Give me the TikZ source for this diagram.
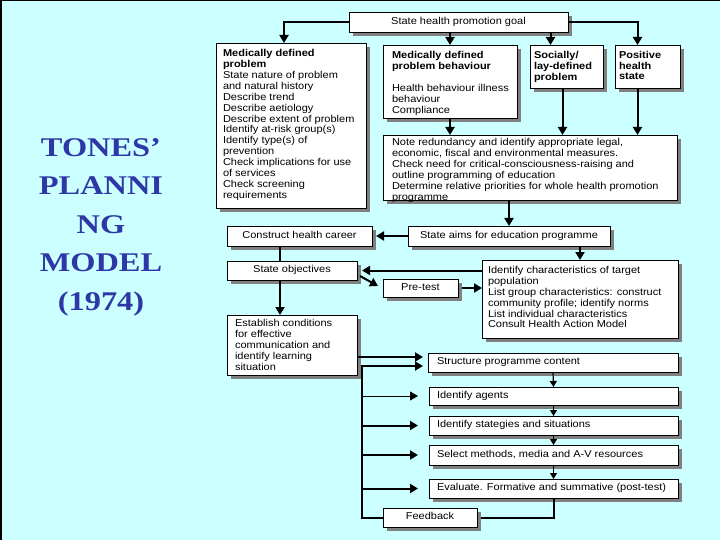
\documentclass[tikz,border=0pt]{standalone}
\usepackage{fontspec}
\usetikzlibrary{arrows.meta,shadows,calc}
\newfontfamily\bxf[FakeStretch=1.1]{Liberation Sans}
\newfontfamily\ttlf[FakeStretch=1.2]{Liberation Serif}
\definecolor{bgcyan}{RGB}{204,255,255}
\definecolor{shgray}{RGB}{128,128,128}
\definecolor{ttlblue}{RGB}{45,55,165}
% top-aligned text: width, height, left pad, top space, text
\newcommand\tbt[5]{\parbox[c][#2][t]{#1}{\raggedright\leftskip=#3\relax\vspace*{#4}\strut#5}}
% single line, left
\newcommand\tbl[4]{\parbox[c][#2][c]{#1}{\raggedright\leftskip=#3\relax\strut#4}}
% single line, centred
\newcommand\tbm[3]{\parbox[c][#2][c]{#1}{\centering\strut#3}}
\tikzset{
  bx/.style={draw=black, line width=0.7pt, fill=white, inner sep=0pt, outer sep=0pt,
    anchor=north west, font=\bxf\fontsize{10}{10.9}\selectfont,
    drop shadow={shadow xshift=4pt, shadow yshift=-4pt, fill=shgray, opacity=1}},
  line/.style={line width=2pt},
  arr/.style={line width=2pt, -{Triangle[length=8pt,width=9pt]}},
  tarr/.style={line width=1pt, -{Triangle[length=8pt,width=9pt]}},
  sarr/.style={line width=1.2pt, -{Triangle[length=6pt,width=7pt]}},
}
\begin{document}
\begin{tikzpicture}[x=1pt,y=-1pt]
\useasboundingbox (0,0) rectangle (720,540);
\fill[bgcyan] (0,0) rectangle (720,540);
\draw[line width=1.5pt] (0.75,540) -- (0.75,0.75) -- (720,0.75);

\node[font=\ttlf\bfseries\fontsize{27}{38.5}\selectfont, text=ttlblue, align=center] (title) at (101,227)
  {TONES’\\PLANNI\\NG\\MODEL\\(1974)};

\node[bx] (goal) at (349,12) {\tbm{219pt}{20pt}{State health promotion goal}};
\node[bx] (mdp) at (216,43) {\tbt{150pt}{165pt}{7pt}{6pt}{\textbf{Medically defined}\\\textbf{problem}\\State nature of problem\\and natural history\\Describe trend\\Describe aetiology\\Describe extent of problem\\Identify at-risk group(s)\\Identify type(s) of\\prevention\\Check implications for use\\of services\\Check screening\\requirements}};
\node[bx] (mdb) at (383,45) {\tbt{134pt}{73pt}{9pt}{6pt}{\textbf{Medically defined}\\\textbf{problem behaviour}\\[11.2pt]Health behaviour illness\\behaviour\\Compliance}};
\node[bx] (soc) at (530,45) {\tbt{73pt}{43pt}{4pt}{6pt}{\textbf{Socially/}\\\textbf{lay-defined}\\\textbf{problem}}};
\node[bx] (pos) at (615,45) {\tbt{65pt}{43pt}{4pt}{5.5pt}{\textbf{Positive}\\\textbf{health}\\\textbf{state}}};
\node[bx] (note) at (383,135) {\tbt{294pt}{65pt}{9pt}{3pt}{Note redundancy and identify appropriate legal,\\economic, fiscal and environmental measures.\\Check need for critical-consciousness-raising and\\outline programming of education\\Determine relative priorities for whole health promotion\\programme}};
\node[bx] (career) at (227,226) {\tbm{145pt}{20pt}{Construct health career}};
\node[bx] (aims) at (408,226) {\tbm{202pt}{20pt}{State aims for education programme}};
\node[bx] (obj) at (227,261) {\tbm{130pt}{19pt}{State objectives}};
\node[bx] (ichar) at (482,260) {\tbt{196pt}{78pt}{6pt}{5.8pt}{Identify characteristics of target\\population\\List group characteristics: construct\\community profile; identify norms\\List individual characteristics\\Consult Health Action Model}};
\node[bx] (pre) at (383,279) {\tbm{75pt}{18pt}{Pre-test}};
\node[bx] (est) at (227,315) {\tbt{130pt}{60pt}{8pt}{4pt}{Establish conditions\\for effective\\communication and\\identify learning\\situation}};
\node[bx] (struct) at (428,353) {\tbl{250pt}{19pt}{9pt}{Structure programme content}};
\node[bx] (agents) at (429,387) {\tbl{249pt}{18pt}{8pt}{Identify agents}};
\node[bx] (strat) at (429,416) {\tbl{249pt}{19pt}{8pt}{Identify stategies and situations}};
\node[bx] (select) at (429,445) {\tbl{249pt}{20pt}{8pt}{Select methods, media and A-V resources}};
\node[bx] (eval) at (429,479) {\tbl{249pt}{19pt}{8pt}{Evaluate. Formative and summative (post-test)}};
\node[bx] (fb) at (383,508) {\tbm{94pt}{19pt}{Feedback}};

% top connectors
\coordinate (mdpin) at ([xshift=-7pt]mdp.north);
\coordinate (posin) at ([xshift=-10pt]pos.north);
\coordinate (socin) at ([xshift=-16pt]soc.north);
\coordinate (socout) at ([xshift=-4pt]soc.south);
\draw[arr] (goal.west) -| (mdpin);
\draw[arr] (goal.east) -| (posin);
\draw[arr] (goal.south -| mdb.north) -- (mdb.north);
\draw[arr] (goal.south -| socin) -- (socin);
\draw[arr] (mdb.south) -- (mdb.south |- note.north);
\draw[arr] (socout) -- (socout |- note.north);
\draw[arr] (posin |- pos.south) -- (posin |- note.north);
\draw[arr] (aims.north |- note.south) -- (aims.north);
\draw[arr] (aims.west) -- ([xshift=4pt]career.east);
\draw[arr] (aims.south -| ichar.north) -- (ichar.north);

% left column
\coordinate (cx) at ([xshift=-19.5pt]career.south);
\draw[line] (cx) -- (cx |- obj.north);
\draw[arr] (cx |- obj.south) -- (cx |- est.north);
\draw[arr] (ichar.west |- obj.east) -- ([xshift=5pt]obj.east);
\draw[arr] ([xshift=3pt,yshift=4pt]obj.south east) -- ([xshift=-5pt,yshift=-7pt]pre.north west);
\draw[arr] ([xshift=4pt]pre.east) -- (pre.east -| ichar.west);

% bus
\coordinate (bustop) at (362,366);
\coordinate (s1) at ([yshift=5.5pt]struct.west);
\draw[arr, shorten >=5pt] (est.east |- s1) -- (s1);
\draw[arr, shorten >=5pt] (fb.west) -| (bustop) -- (bustop -| struct.west);
\draw[tarr, shorten >=11pt] (agents.west -| bustop) -- (agents.west);
\draw[arr, shorten >=11pt] (strat.west -| bustop) -- (strat.west);
\draw[arr, shorten >=11pt] (select.west -| bustop) -- (select.west);
\draw[arr, shorten >=11pt] (eval.west -| bustop) -- (eval.west);

% right column
\draw[sarr] (struct.south) -- (agents.north);
\draw[sarr] (agents.south) -- (strat.north);
\draw[sarr] (strat.south) -- (select.north);
\draw[sarr] (select.south) -- (eval.north);
\draw[line] (eval.south) |- ([xshift=4pt]fb.east);
\end{tikzpicture}
\end{document}
